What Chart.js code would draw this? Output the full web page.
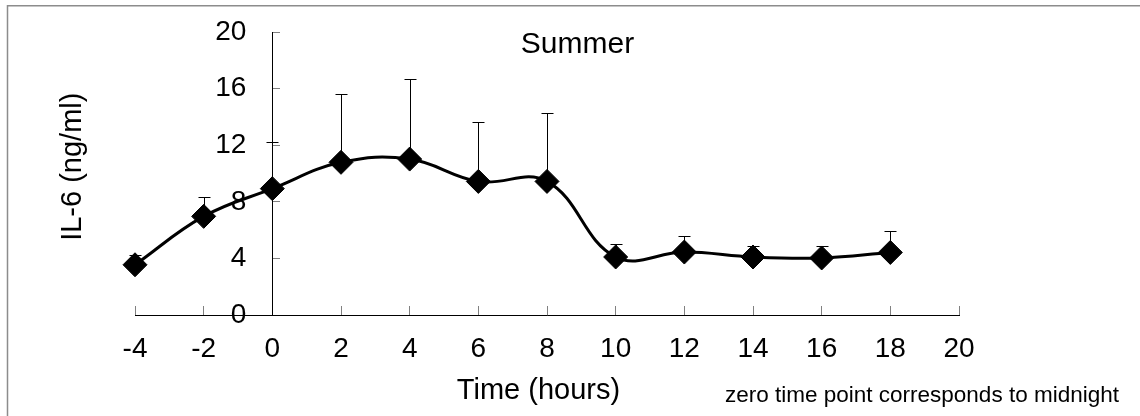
<!DOCTYPE html>
<html>
<head>
<meta charset="utf-8">
<script src="https://cdn.jsdelivr.net/npm/chart.js@4/dist/chart.umd.min.js"></script>
<style>
html, body { margin: 0; padding: 0; background: #fff; }
canvas { display: block; }
</style>
</head>
<body>
<canvas id="c" width="1140" height="416"></canvas>
<script>
// ---- data ----
const times = [-4, -2, 0, 2, 4, 6, 8, 10, 12, 14, 16, 18];
const meanIL6 = [3.55, 6.97, 8.93, 10.79, 11.02, 9.44, 9.44, 4.10, 4.45, 4.10, 4.03, 4.42];
const sdIL6 = [0.7, 1.4, 3.3, 4.85, 5.65, 4.2, 4.85, 0.9, 1.15, 0.75, 0.87, 1.5];
const xTickValues = [-4, -2, 0, 2, 4, 6, 8, 10, 12, 14, 16, 18, 20];
const yTickValues = [0, 4, 8, 12, 16, 20];
const chartTitle = 'Summer';
const xTitle = 'Time (hours)';
const yTitle = 'IL-6 (ng/ml)';
const noteText = 'zero time point corresponds to midnight';

const FAMILY = '"Liberation Sans", Arial, Helvetica, sans-serif';
const Y_LABEL_GAP = 26;

const framePlugin = {
  id: 'frame',
  beforeDraw(chart) {
    const ctx = chart.ctx;
    ctx.save();
    ctx.strokeStyle = '#8c8c8c';
    ctx.lineWidth = 1.5;
    ctx.beginPath();
    ctx.moveTo(7.5, 416);
    ctx.lineTo(7.5, 5.8);
    ctx.lineTo(1140, 5.8);
    ctx.stroke();
    ctx.restore();
    // move the y-axis tick labels to the left of the crossing axis
    const ys = chart.scales.y;
    const items = ys.getLabelItems(chart.chartArea);
    if (!ys._shifted) {
      items.forEach(it => { it.options.translation[0] -= Y_LABEL_GAP; });
      ys._shifted = true;
    }
  },
  afterUpdate(chart) {
    if (chart.scales.y) chart.scales.y._shifted = false;
  }
};

const errorBarPlugin = {
  id: 'errorBars',
  beforeDatasetsDraw(chart) {
    const { ctx, scales: { x, y } } = chart;
    ctx.save();
    ctx.strokeStyle = '#000';
    ctx.lineWidth = 1;
    times.forEach((t, i) => {
      const px = Math.round(x.getPixelForValue(t)) + 0.5;
      const y0 = y.getPixelForValue(meanIL6[i]);
      const y1 = Math.round(y.getPixelForValue(meanIL6[i] + sdIL6[i])) + 0.5;
      ctx.beginPath();
      ctx.moveTo(px, y0);
      ctx.lineTo(px, y1);
      ctx.moveTo(px - 6, y1);
      ctx.lineTo(px + 6, y1);
      ctx.stroke();
    });
    ctx.restore();
  }
};

const textPlugin = {
  id: 'texts',
  afterDraw(chart) {
    const ctx = chart.ctx;
    ctx.save();
    ctx.fillStyle = '#000';
    ctx.textBaseline = 'alphabetic';
    ctx.font = '30px ' + FAMILY;
    ctx.textAlign = 'center';
    ctx.fillText(chartTitle, 577.5, 53);
    ctx.font = '29px ' + FAMILY;
    ctx.fillText(xTitle, 538.5, 399);
    ctx.save();
    ctx.translate(81, 166.7);
    ctx.rotate(-Math.PI / 2);
    ctx.fillText(yTitle, 0, 0);
    ctx.restore();
    ctx.textAlign = 'left';
    ctx.font = '22.5px ' + FAMILY;
    ctx.fillText(noteText, 725, 401.5);
    ctx.restore();
  }
};

new Chart(document.getElementById('c'), {
  type: 'line',
  data: {
    datasets: [{
      label: 'IL-6',
      data: times.map((t, i) => ({ x: t, y: meanIL6[i] })),
      borderColor: '#000',
      borderWidth: 3,
      tension: 0.4,
      fill: false,
      clip: false,
      pointStyle: 'rectRot',
      pointRadius: 12,
      pointHoverRadius: 12,
      pointBackgroundColor: '#000',
      pointBorderColor: '#000',
      pointBorderWidth: 1
    }]
  },
  options: {
    responsive: false,
    animation: false,
    events: [],
    layout: { padding: { left: 135, right: 181, top: 32, bottom: 41 } },
    plugins: {
      legend: { display: false },
      title: { display: false },
      tooltip: { enabled: false }
    },
    scales: {
      x: {
        type: 'linear',
        position: 'bottom',
        min: -4,
        max: 20,
        afterBuildTicks: s => { s.ticks = xTickValues.map(v => ({ value: v })); },
        afterFit: s => { s.height = 60; },
        grid: { drawOnChartArea: false, drawTicks: true, tickLength: -9, color: '#808080', lineWidth: 1 },
        border: { display: true, color: '#000', width: 1 },
        ticks: {
          padding: 26,
          color: '#000',
          maxRotation: 0,
          autoSkip: false,
          font: { family: FAMILY, size: 28 },
          callback: v => String(v)
        }
      },
      y: {
        type: 'linear',
        position: { x: 0 },
        min: 0,
        max: 20,
        afterBuildTicks: s => { s.ticks = yTickValues.map(v => ({ value: v })); },
        afterFit: s => { s.paddingTop = 0; s.paddingBottom = 0; },
        grid: { drawOnChartArea: false, drawTicks: true, tickLength: -8, color: '#808080', lineWidth: 1 },
        border: { display: true, color: '#000', width: 1 },
        ticks: {
          padding: 8,
          color: '#000',
          autoSkip: false,
          font: { family: FAMILY, size: 28 },
          callback: v => String(v)
        }
      }
    }
  },
  plugins: [framePlugin, errorBarPlugin, textPlugin]
});
</script>
</body>
</html>
